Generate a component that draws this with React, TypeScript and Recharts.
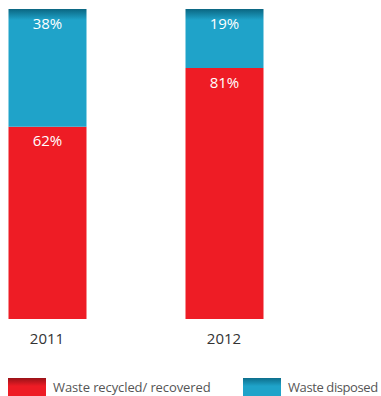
import { Bar, BarChart, LabelList, Legend, XAxis, YAxis } from "recharts";

const years = ["2011", "2012"];
const recycled = [62, 81];
const disposed = [38, 19];

const RED = "#ee1c25";
const BLUE = "#1fa3c9";

const data = years.map((year, i) => ({
	year,
	recycled: recycled[i],
	disposed: disposed[i],
}));

const pct = (v: unknown) => `${v}%`;

function LegendBox() {
	const items = [
		{ label: "Waste recycled/ recovered", left: 8, from: "#9a1218", to: RED, ls: -0.1 },
		{ label: "Waste disposed", left: 243, from: "#0d6e8c", to: BLUE, ls: -0.4 },
	];
	return (
		<div style={{ position: "relative", height: 26 }}>
			{items.map((it) => (
				<div key={it.label} style={{ position: "absolute", left: it.left, top: 0 }}>
					<div
						style={{
							position: "absolute",
							left: 0,
							top: 0,
							width: 38,
							height: 18,
							background: `linear-gradient(${it.from} 0%, ${it.to} 45%, ${it.to} 100%)`,
						}}
					/>
					<span
						style={{
							position: "absolute",
							left: 45,
							top: 0,
							whiteSpace: "nowrap",
							fontSize: 13,
							letterSpacing: it.ls,
							color: "#555",
							lineHeight: "18px",
						}}
					>
						{it.label}
					</span>
				</div>
			))}
		</div>
	);
}

export default function App() {
	return (
		<div style={{ position: "absolute", left: 0, top: 0, fontFamily: "'Open Sans', sans-serif" }}>
			<BarChart
				width={381}
				height={396}
				data={data}
				margin={{ top: 9, left: -41.5, right: 68.5, bottom: 21 }}
				barSize={78}
			>
				<defs>
					<linearGradient id="blueTop" x1="0" y1="9" x2="0" y2="20" gradientUnits="userSpaceOnUse">
						<stop offset="0%" stopColor="#0b6682" />
						<stop offset="100%" stopColor={BLUE} />
					</linearGradient>
				</defs>
				<XAxis
					dataKey="year"
					axisLine={false}
					tickLine={false}
					tickMargin={8}
					height={30}
					tick={{ fill: "#333", fontSize: 15 }}
				/>
				<YAxis hide domain={[0, 100]} />
				<Bar dataKey="recycled" stackId="a" fill={RED} isAnimationActive={false}>
					<LabelList dataKey="recycled" position="insideTop" offset={9} formatter={pct} fill="#fff" fontSize={15} fontWeight={500} />
				</Bar>
				<Bar dataKey="disposed" stackId="a" fill="url(#blueTop)" isAnimationActive={false}>
					<LabelList dataKey="disposed" position="insideTop" offset={9} formatter={pct} fill="#fff" fontSize={15} fontWeight={500} />
				</Bar>
				<Legend
					content={() => <LegendBox />}
					wrapperStyle={{ left: 0, top: 378, width: 381 }}
				/>
			</BarChart>
		</div>
	);
}
